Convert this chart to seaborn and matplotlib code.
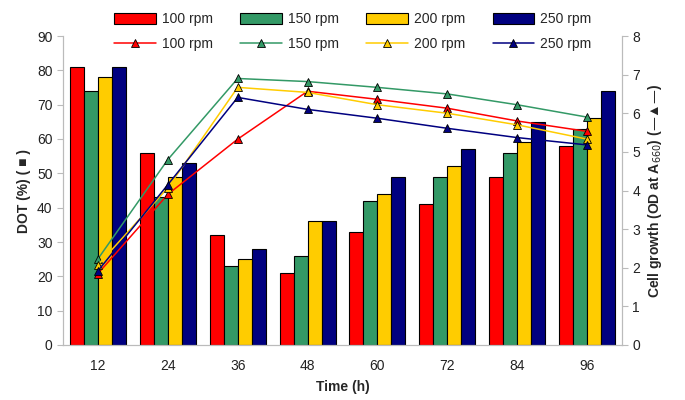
import matplotlib
matplotlib.use('Agg')
import matplotlib.pyplot as plt
import seaborn as sns
import pandas as pd
from matplotlib.patches import Patch
from matplotlib.lines import Line2D

times = ['12', '24', '36', '48', '60', '72', '84', '96']
speeds = ['100 rpm', '150 rpm', '200 rpm', '250 rpm']
colors = ['#FF0000', '#339966', '#FFCC00', '#000080']

# DOT (%) bars
dot_100 = [81, 56, 32, 21, 33, 41, 49, 58]
dot_150 = [74, 43, 23, 26, 42, 49, 56, 63]
dot_200 = [78, 49, 25, 36, 44, 52, 59, 66]
dot_250 = [81, 53, 28, 36, 49, 57, 65, 74]

# OD at A660 lines
od_100 = [1.85, 3.90, 5.33, 6.57, 6.36, 6.13, 5.80, 5.53]
od_150 = [2.23, 4.80, 6.90, 6.82, 6.67, 6.50, 6.22, 5.90]
od_200 = [2.07, 4.07, 6.67, 6.54, 6.22, 6.00, 5.70, 5.33]
od_250 = [1.92, 4.15, 6.41, 6.10, 5.87, 5.61, 5.37, 5.18]

dot = pd.DataFrame({'time': times * 4,
                    'speed': [s for s in speeds for _ in times],
                    'value': dot_100 + dot_150 + dot_200 + dot_250})
od = pd.DataFrame({'time': times * 4,
                   'speed': [s for s in speeds for _ in times],
                   'value': od_100 + od_150 + od_200 + od_250})

sns.set_style('white')
plt.rcParams['font.family'] = ['Liberation Sans', 'DejaVu Sans']

fig = plt.figure(figsize=(6.85, 4), dpi=100)
ax = fig.add_axes([0.092, 0.1375, 0.816, 0.7725])

sns.barplot(data=dot, x='time', y='value', hue='speed', order=times,
            hue_order=speeds, palette=colors, width=0.8, saturation=1,
            edgecolor='black', linewidth=0.8, errorbar=None, ax=ax, legend=False)

ax2 = ax.twinx()
sns.pointplot(data=od, x='time', y='value', hue='speed', order=times,
              hue_order=speeds, palette=colors, markers='^', linestyles='-',
              errorbar=None, dodge=False, ax=ax2, legend=False,
              markersize=6, linewidth=1.1)
for ln in ax2.lines:
    ln.set_markeredgecolor('black')
    ln.set_markeredgewidth(0.6)

ax.set_xlim(-0.5, 7.5)
ax.set_ylim(0, 90)
ax.set_yticks(range(0, 91, 10))
ax2.set_ylim(0, 8)
ax2.set_yticks(range(0, 9))

ax.set_xlabel('Time (h)', fontsize=10, fontweight='bold', labelpad=5)
ax.set_ylabel('DOT (%) ( ■ )', fontsize=10, fontweight='bold')
ax2.set_ylabel('Cell growth (OD at A$_{660}$) (—▲—)', fontsize=10, fontweight='bold')

for a in (ax, ax2):
    for side in ['left', 'right', 'bottom', 'top']:
        a.spines[side].set_color('#BBBBBB')
        a.spines[side].set_linewidth(0.8)
    a.spines['top'].set_visible(False)
    a.tick_params(axis='both', labelsize=10, colors='#222222', length=4,
                  color='#BBBBBB', direction='out')

ax.set_xticks([i + 0.5 for i in range(-1, 8)], minor=True)
ax.tick_params(axis='x', which='major', length=0, pad=10)
ax.tick_params(axis='x', which='minor', length=4, color='#BBBBBB')
ax.tick_params(axis='y', left=True)
ax2.tick_params(axis='y', right=True)

handles = []
for s, c in zip(speeds, colors):
    handles.append(Patch(facecolor=c, edgecolor='black', linewidth=0.8, label=s))
    handles.append(Line2D([0], [0], color=c, lw=1.1, marker='^', markersize=6,
                          markerfacecolor=c, markeredgecolor='black',
                          markeredgewidth=0.6, label=s))
fig.legend(handles=handles, ncol=4, loc='upper center', bbox_to_anchor=(0.515, 1.0),
           frameon=False, fontsize=10, handlelength=3.0, columnspacing=2.0,
           handletextpad=0.4, labelspacing=0.75, handleheight=0.9)

fig.savefig('out.png', dpi=100)
